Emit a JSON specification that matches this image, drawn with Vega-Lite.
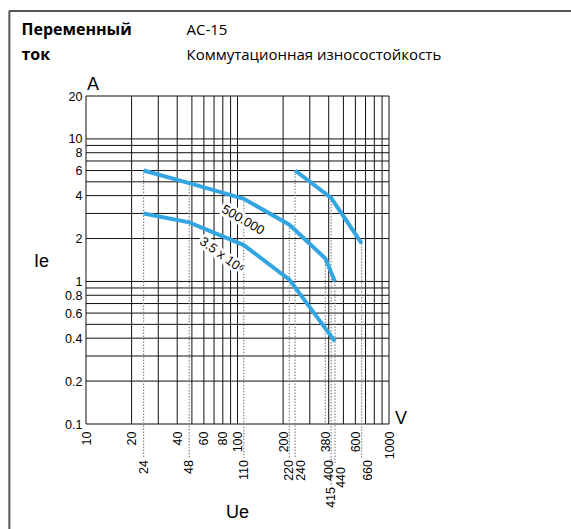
{
  "$schema": "https://vega.github.io/schema/vega-lite/v6.json",
  "width": 303,
  "height": 328,
  "autosize": {"type": "none"},
  "padding": {"left": 86, "top": 96, "right": 182, "bottom": 105},
  "background": "white",
  "config": {
    "view": {"stroke": null},
    "font": "Liberation Sans",
    "text": {"font": "Liberation Sans", "color": "black"}
  },
  "resolve": {"axis": {"x": "independent", "y": "independent"}},
  "layer": [
    {
      "data": {"values": [
        {"v": 10}, {"v": 20}, {"v": 30}, {"v": 40}, {"v": 50}, {"v": 60}, {"v": 70}, {"v": 80}, {"v": 90}, {"v": 100},
        {"v": 200}, {"v": 300}, {"v": 400}, {"v": 500}, {"v": 600}, {"v": 700}, {"v": 800}, {"v": 900}, {"v": 1000}
      ]},
      "mark": {"type": "rule", "color": "#111", "strokeWidth": 1},
      "encoding": {
        "x": {
          "field": "v", "type": "quantitative",
          "scale": {"type": "log", "domain": [10, 1000], "nice": false},
          "axis": {
            "orient": "bottom",
            "values": [10, 20, 40, 60, 80, 100, 200, 380, 600, 1000],
            "labelExpr": "'' + datum.value",
            "labelAngle": 270,
            "labelAlign": "right",
            "labelBaseline": "middle",
            "labelPadding": 7,
            "labelFont": "Liberation Sans",
            "labelFontSize": 12.5,
            "labelColor": "black",
            "labelOverlap": false,
            "labelBound": false,
            "labelFlush": false,
            "ticks": false,
            "domain": false,
            "grid": false,
            "title": "Ue",
            "titleFont": "Liberation Sans",
            "titleFontSize": 18,
            "titleFontWeight": "normal",
            "titleColor": "black",
            "titleX": 151,
            "titleY": 93,
            "titleAlign": "center",
            "titleBaseline": "alphabetic"
          }
        }
      }
    },
    {
      "data": {"values": [
        {"v": 0.1}, {"v": 0.2}, {"v": 0.3}, {"v": 0.4}, {"v": 0.5}, {"v": 0.6}, {"v": 0.7}, {"v": 0.8}, {"v": 0.9}, {"v": 1},
        {"v": 2}, {"v": 3}, {"v": 4}, {"v": 5}, {"v": 6}, {"v": 7}, {"v": 8}, {"v": 9}, {"v": 10}, {"v": 20}
      ]},
      "mark": {"type": "rule", "color": "#111", "strokeWidth": 1},
      "encoding": {
        "y": {
          "field": "v", "type": "quantitative",
          "scale": {"type": "log", "domain": [0.1, 20], "nice": false},
          "axis": {
            "orient": "left",
            "values": [0.1, 0.2, 0.4, 0.6, 0.8, 1, 2, 4, 6, 8, 10, 20],
            "labelExpr": "'' + datum.value",
            "labelPadding": 4,
            "labelFont": "Liberation Sans",
            "labelFontSize": 12.5,
            "labelColor": "black",
            "labelOverlap": false,
            "labelBound": false,
            "labelFlush": false,
            "ticks": false,
            "domain": false,
            "grid": false,
            "title": "Ie",
            "titleFont": "Liberation Sans",
            "titleFontSize": 18,
            "titleFontWeight": "normal",
            "titleColor": "black",
            "titleAngle": 0,
            "titleX": -45,
            "titleY": 170,
            "titleAlign": "center",
            "titleBaseline": "alphabetic"
          }
        }
      }
    },
    {
      "data": {"values": [{}]},
      "mark": {"type": "rule", "color": "#555", "strokeWidth": 2, "clip": false},
      "encoding": {
        "y": {"datum": 79, "type": "quantitative", "scale": {"type": "log", "domain": [0.1, 20], "nice": false}, "axis": null},
        "x": {"datum": 3.1, "type": "quantitative", "scale": {"type": "log", "domain": [10, 1000], "nice": false}, "axis": null},
        "x2": {"datum": 20000}
      }
    },
    {
      "data": {"values": [{}]},
      "mark": {"type": "rule", "color": "#555", "strokeWidth": 2, "clip": false},
      "encoding": {
        "x": {"datum": 3.12, "type": "quantitative", "scale": {"type": "log", "domain": [10, 1000], "nice": false}, "axis": null},
        "y": {"datum": 79, "type": "quantitative", "scale": {"type": "log", "domain": [0.1, 20], "nice": false}, "axis": null},
        "y2": {"datum": 0.01}
      }
    },
    {
      "data": {"values": [
        {"u": 24, "i": 6}, {"u": 48, "i": 4.9}, {"u": 110, "i": 3.8}, {"u": 220, "i": 2.5}, {"u": 240, "i": 6}, {"u": 660, "i": 1.85}
      ]},
      "mark": {"type": "rule", "color": "#888", "strokeWidth": 1.2, "strokeDash": [1.5, 1.5], "clip": false},
      "encoding": {
        "x": {"field": "u", "type": "quantitative", "scale": {"type": "log", "domain": [10, 1000], "nice": false}, "axis": null},
        "y": {"field": "i", "type": "quantitative", "scale": {"type": "log", "domain": [0.1, 20], "nice": false}, "axis": null},
        "y2": {"datum": 0.058}
      }
    },
    {
      "data": {"values": [{"u": 380, "i": 1.45}]},
      "mark": {"type": "rule", "color": "#888", "strokeWidth": 1.2, "strokeDash": [1.5, 1.5], "clip": false},
      "encoding": {
        "x": {"field": "u", "type": "quantitative", "scale": {"type": "log", "domain": [10, 1000], "nice": false}, "axis": null},
        "y": {"field": "i", "type": "quantitative", "scale": {"type": "log", "domain": [0.1, 20], "nice": false}, "axis": null},
        "y2": {"datum": 0.1}
      }
    },
    {
      "data": {"values": [{"u": 440, "i": 1.0}]},
      "mark": {"type": "rule", "color": "#888", "strokeWidth": 1.2, "strokeDash": [1.5, 1.5], "clip": false},
      "encoding": {
        "x": {"field": "u", "type": "quantitative", "scale": {"type": "log", "domain": [10, 1000], "nice": false}, "axis": null},
        "y": {"field": "i", "type": "quantitative", "scale": {"type": "log", "domain": [0.1, 20], "nice": false}, "axis": null},
        "y2": {"datum": 0.052}
      }
    },
    {
      "data": {"values": [{"u": 415, "i": 3.85}]},
      "mark": {"type": "rule", "color": "#888", "strokeWidth": 1.2, "strokeDash": [1.5, 1.5], "clip": false},
      "encoding": {
        "x": {"field": "u", "type": "quantitative", "scale": {"type": "log", "domain": [10, 1000], "nice": false}, "axis": null},
        "y": {"field": "i", "type": "quantitative", "scale": {"type": "log", "domain": [0.1, 20], "nice": false}, "axis": null},
        "y2": {"datum": 0.037}
      }
    },
    {
      "data": {"values": [
        {"s": "500.000", "u": 24, "i": 6.0},
        {"s": "500.000", "u": 48, "i": 4.9},
        {"s": "500.000", "u": 110, "i": 3.8},
        {"s": "500.000", "u": 220, "i": 2.5},
        {"s": "500.000", "u": 380, "i": 1.45},
        {"s": "500.000", "u": 440, "i": 1.0},
        {"s": "3.5x10^6", "u": 24, "i": 3.0},
        {"s": "3.5x10^6", "u": 48, "i": 2.6},
        {"s": "3.5x10^6", "u": 110, "i": 1.8},
        {"s": "3.5x10^6", "u": 220, "i": 1.03},
        {"s": "3.5x10^6", "u": 440, "i": 0.38},
        {"s": "right", "u": 240, "i": 6.0},
        {"s": "right", "u": 415, "i": 3.85},
        {"s": "right", "u": 660, "i": 1.85}
      ]},
      "mark": {"type": "line", "color": "#33a6e2", "strokeWidth": 4, "strokeCap": "butt"},
      "encoding": {
        "x": {"field": "u", "type": "quantitative", "scale": {"type": "log", "domain": [10, 1000], "nice": false}, "axis": null},
        "y": {
          "field": "i", "type": "quantitative",
          "scale": {"type": "log", "domain": [0.1, 20], "nice": false},
          "axis": {
            "orient": "right",
            "labels": false, "ticks": false, "domain": false, "grid": false,
            "title": ["AC-15", "Коммутационная износостойкость"],
            "titleFont": "Open Sans",
            "titleFontSize": 15,
            "titleFontWeight": "normal",
            "titleColor": "black",
            "titleAngle": 0,
            "titleAlign": "left",
            "titleBaseline": "alphabetic",
            "titleLineHeight": 25,
            "titleX": -203,
            "titleY": -62
          }
        },
        "detail": {"field": "s", "type": "nominal"}
      }
    },
    {
      "data": {"values": [{"u": 108.7, "i": 2.7, "t": "500.000"}]},
      "layer": [
        {"mark": {"type": "text", "angle": 30, "fontSize": 13, "stroke": "white", "strokeWidth": 6, "strokeJoin": "round", "fill": "white", "align": "center", "baseline": "middle"}},
        {"mark": {"type": "text", "angle": 30, "fontSize": 13, "fill": "black", "align": "center", "baseline": "middle"}}
      ],
      "encoding": {
        "x": {"field": "u", "type": "quantitative", "scale": {"type": "log", "domain": [10, 1000], "nice": false}, "axis": null},
        "y": {"field": "i", "type": "quantitative", "scale": {"type": "log", "domain": [0.1, 20], "nice": false}, "axis": null},
        "text": {"field": "t"}
      }
    },
    {
      "data": {"values": [{"u": 79, "i": 1.53, "t": "3.5 x 10⁶"}]},
      "layer": [
        {"mark": {"type": "text", "angle": 36, "fontSize": 13, "stroke": "white", "strokeWidth": 6, "strokeJoin": "round", "fill": "white", "align": "center", "baseline": "middle"}},
        {"mark": {"type": "text", "angle": 36, "fontSize": 13, "fill": "black", "align": "center", "baseline": "middle"}}
      ],
      "encoding": {
        "x": {"field": "u", "type": "quantitative", "scale": {"type": "log", "domain": [10, 1000], "nice": false}, "axis": null},
        "y": {"field": "i", "type": "quantitative", "scale": {"type": "log", "domain": [0.1, 20], "nice": false}, "axis": null},
        "text": {"field": "t"}
      }
    },
    {
      "data": {"values": [{"u": 24}, {"u": 48}, {"u": 110}, {"u": 220}, {"u": 400}]},
      "mark": {"type": "text", "angle": 270, "align": "right", "baseline": "middle", "fontSize": 12.5, "dx": -36, "clip": false},
      "encoding": {
        "x": {"field": "u", "type": "quantitative", "scale": {"type": "log", "domain": [10, 1000], "nice": false}, "axis": null},
        "y": {"datum": 0.1, "type": "quantitative", "scale": {"type": "log", "domain": [0.1, 20], "nice": false}, "axis": null},
        "text": {"field": "u", "type": "quantitative", "format": "d"}
      }
    },
    {
      "data": {"values": [{"u": 240}, {"u": 660}]},
      "mark": {"type": "text", "angle": 270, "align": "right", "baseline": "middle", "fontSize": 12.5, "dx": -36, "dy": 6, "clip": false},
      "encoding": {
        "x": {"field": "u", "type": "quantitative", "scale": {"type": "log", "domain": [10, 1000], "nice": false}, "axis": null},
        "y": {"datum": 0.1, "type": "quantitative", "scale": {"type": "log", "domain": [0.1, 20], "nice": false}, "axis": null},
        "text": {"field": "u", "type": "quantitative", "format": "d"}
      }
    },
    {
      "data": {"values": [{"u": 440}]},
      "mark": {"type": "text", "angle": 270, "align": "right", "baseline": "middle", "fontSize": 12.5, "dx": -43, "dy": 6, "clip": false},
      "encoding": {
        "x": {"field": "u", "type": "quantitative", "scale": {"type": "log", "domain": [10, 1000], "nice": false}, "axis": null},
        "y": {"datum": 0.1, "type": "quantitative", "scale": {"type": "log", "domain": [0.1, 20], "nice": false}, "axis": null},
        "text": {"field": "u", "type": "quantitative", "format": "d"}
      }
    },
    {
      "data": {"values": [{"u": 415}]},
      "mark": {"type": "text", "angle": 270, "align": "right", "baseline": "middle", "fontSize": 12.5, "dx": -63, "clip": false},
      "encoding": {
        "x": {"field": "u", "type": "quantitative", "scale": {"type": "log", "domain": [10, 1000], "nice": false}, "axis": null},
        "y": {"datum": 0.1, "type": "quantitative", "scale": {"type": "log", "domain": [0.1, 20], "nice": false}, "axis": null},
        "text": {"field": "u", "type": "quantitative", "format": "d"}
      }
    },
    {
      "data": {"values": [{"t": "A"}]},
      "mark": {"type": "text", "align": "left", "baseline": "alphabetic", "fontSize": 18, "dx": 1, "dy": -6, "clip": false},
      "encoding": {
        "x": {
          "datum": 10, "type": "quantitative",
          "scale": {"type": "log", "domain": [10, 1000], "nice": false},
          "axis": {
            "orient": "top",
            "labels": false, "ticks": false, "domain": false, "grid": false,
            "title": ["Переменный", "ток"],
            "titleFont": "Open Sans",
            "titleFontSize": 16,
            "titleFontWeight": "bold",
            "titleColor": "black",
            "titleAngle": 0,
            "titleAlign": "left",
            "titleBaseline": "alphabetic",
            "titleLineHeight": 25,
            "titleX": -65,
            "titleY": -62
          }
        },
        "y": {"datum": 20, "type": "quantitative", "scale": {"type": "log", "domain": [0.1, 20], "nice": false}, "axis": null},
        "text": {"field": "t"}
      }
    },
    {
      "data": {"values": [{"t": "V"}]},
      "mark": {"type": "text", "align": "left", "baseline": "alphabetic", "fontSize": 18, "dx": 6, "dy": 0, "clip": false},
      "encoding": {
        "x": {"datum": 1000, "type": "quantitative", "scale": {"type": "log", "domain": [10, 1000], "nice": false}, "axis": null},
        "y": {"datum": 0.1, "type": "quantitative", "scale": {"type": "log", "domain": [0.1, 20], "nice": false}, "axis": null},
        "text": {"field": "t"}
      }
    }
  ]
}
